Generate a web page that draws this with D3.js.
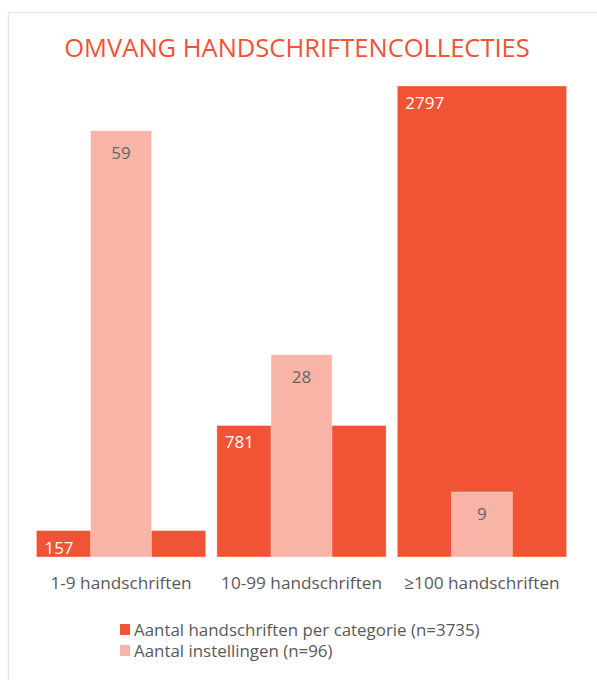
<!DOCTYPE html>
<html>
<head>
<meta charset="utf-8">
<script src="https://cdn.jsdelivr.net/npm/d3@7"></script>
<style>
  body { margin: 0; background: #fff; }
  text { font-family: "Open Sans", sans-serif; }
</style>
</head>
<body>
<div id="chart"></div>
<script>
let categories = ["1-9 handschriften", "10-99 handschriften", "\u2265100 handschriften"];
let manuscripts = [157, 781, 2797];
let institutions = [59, 28, 9];
let legendLabels = ["Aantal handschriften per categorie (n=3735)", "Aantal instellingen (n=96)"];

let colors = ["#f15335", "#f8b4a7"];

let W = 597, H = 680;
let margin = { top: 86, right: 25, bottom: 123, left: 31 };

let svg = d3
  .select("#chart")
  .append("svg")
  .attr("width", W)
  .attr("height", H);

// card frame
svg.append("rect")
  .attr("x", 8.5).attr("y", 12.5)
  .attr("width", W).attr("height", H)
  .attr("fill", "none")
  .attr("stroke", "#e6e6e6")
  .attr("stroke-width", 1.5);

svg.append("text")
  .attr("x", 297).attr("y", 57)
  .attr("text-anchor", "middle")
  .attr("fill", "#f15335")
  .style("font-size", "25.5px")
  .text("OMVANG HANDSCHRIFTENCOLLECTIES");

let x = d3.scaleBand()
  .domain(categories)
  .range([margin.left, W - margin.right])
  .paddingInner(0.062)
  .paddingOuter(0.03);

let y1 = d3.scaleLinear().domain([0, 2797]).range([H - margin.bottom, margin.top]);
let y2 = d3.scaleLinear().domain([0, 65.2]).range([H - margin.bottom, margin.top]);

let pinkW = x.bandwidth() * 0.36;

let g = svg.append("g");

// wide bars: manuscripts
g.selectAll(".bar1")
  .data(manuscripts)
  .enter()
  .append("rect")
  .attr("class", "bar1")
  .attr("x", (d, i) => x(categories[i]))
  .attr("y", (d) => y1(d))
  .attr("width", x.bandwidth())
  .attr("height", (d) => y1(0) - y1(d))
  .attr("fill", colors[0])
  .attr("stroke", "rgba(255,255,255,0.35)")
  .attr("stroke-width", 1);

// narrow bars: institutions
g.selectAll(".bar2")
  .data(institutions)
  .enter()
  .append("rect")
  .attr("class", "bar2")
  .attr("x", (d, i) => x(categories[i]) + (x.bandwidth() - pinkW) / 2)
  .attr("y", (d) => y2(d))
  .attr("width", pinkW)
  .attr("height", (d) => y2(0) - y2(d))
  .attr("fill", colors[1])
  .attr("stroke", "rgba(255,255,255,0.35)")
  .attr("stroke-width", 1);

g.selectAll(".lab1")
  .data(manuscripts)
  .enter()
  .append("text")
  .attr("x", (d, i) => x(categories[i]) + 8)
  .attr("y", (d) => y1(d) + 23)
  .attr("fill", "#fff")
  .style("font-size", "17px")
  .text((d) => d);

g.selectAll(".lab2")
  .data(institutions)
  .enter()
  .append("text")
  .attr("x", (d, i) => x(categories[i]) + x.bandwidth() / 2)
  .attr("y", (d) => y2(d) + 28)
  .attr("text-anchor", "middle")
  .attr("fill", "#666")
  .style("font-size", "17px")
  .text((d) => d);

let xAxis = svg.append("g")
  .attr("transform", "translate(0," + (H - margin.bottom) + ")")
  .call(d3.axisBottom(x).tickSize(0).tickPadding(20));
xAxis.select(".domain").remove();
xAxis.selectAll("text")
  .attr("fill", "#595959")
  .style("font-family", "'Open Sans', sans-serif")
  .style("font-size", "17.2px");

let legend = svg.append("g").attr("transform", "translate(120,624)");
legendLabels.forEach((lab, i) => {
  let row = legend.append("g").attr("transform", "translate(0," + i * 21 + ")");
  row.append("rect")
    .attr("width", 10).attr("height", 11)
    .attr("fill", colors[i]);
  row.append("text")
    .attr("x", 14).attr("y", 12)
    .attr("fill", "#595959")
    .style("font-size", "16.9px")
    .text(lab);
});
</script>
</body>
</html>
